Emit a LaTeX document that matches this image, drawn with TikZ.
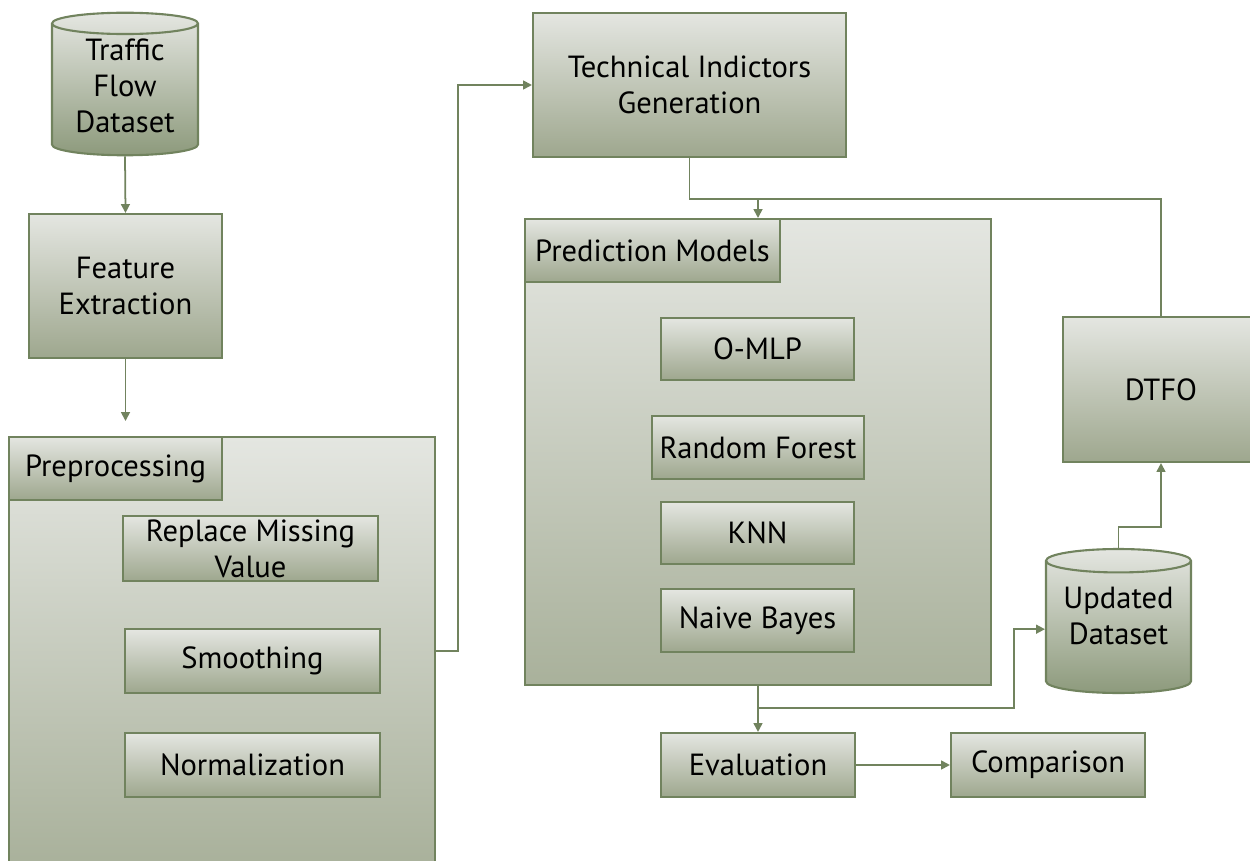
\documentclass[tikz,border=0pt]{standalone}
\usepackage{fontspec}
\setmainfont{PT Sans}
\usetikzlibrary{shapes.geometric,arrows.meta}
\definecolor{boxline}{RGB}{113,131,94}
\definecolor{boxtop}{RGB}{228,230,225}
\definecolor{boxbot}{RGB}{158,167,142}
\definecolor{wrapbot}{RGB}{169,177,155}
\definecolor{storebot}{RGB}{141,154,124}
\tikzstyle{block}=[draw=boxline, line width=1.2pt, top color=boxtop, bottom color=boxbot, align=center, inner sep=2pt, font=\fontsize{17.4}{20.5}\selectfont]
\tikzstyle{container}=[block, bottom color=wrapbot]
\tikzstyle{store}=[block, cylinder, shape border rotate=90, aspect=0.2, anchor=shape center, bottom color=storebot]
\tikzstyle{link}=[draw=boxline, line width=1pt]
\tikzstyle{flow}=[link, -{Triangle[length=5pt,width=5pt]}]

\begin{document}
\begin{tikzpicture}[x=0.02cm, y=-0.02cm]
\useasboundingbox (0,0) rectangle (1250,861);

\node[container, minimum width=8.52cm, minimum height=8.56cm] (prep) at (222,651) {};
\node[block, minimum width=4.26cm, minimum height=1.26cm] (preplab) at (115.5,468.5) {Preprocessing};
\node[container, minimum width=9.32cm, minimum height=9.32cm] (pred) at (758,452) {};
\node[block, minimum width=5.10cm, minimum height=1.26cm] (predlab) at (652.5,250.5) {Prediction Models};

\node[store, minimum width=2.92cm, minimum height=2.84cm, text depth=6.9pt] (data) at (125,84) {Traffic\\Flow\\Dataset};
\node[block, minimum width=3.86cm, minimum height=2.88cm] (feat) at (125.5,286) {Feature\\Extraction};
\node[block, minimum width=5.10cm, minimum height=1.26cm] (rmv) at (250.5,548.5) {Replace Missing\\Value};
\node[block, minimum width=5.10cm, minimum height=1.28cm] (smooth) at (252.5,661) {Smoothing};
\node[block, minimum width=5.10cm, minimum height=1.28cm] (norm) at (252.5,765) {Normalization};
\node[block, minimum width=6.26cm, minimum height=2.88cm] (tech) at (689.5,85) {Technical Indictors\\Generation};
\node[block, minimum width=3.86cm, minimum height=1.24cm] (omlp) at (757.5,349) {O-MLP};
\node[block, minimum width=4.24cm, minimum height=1.26cm] (rf) at (758,447.5) {Random Forest};
\node[block, minimum width=3.86cm, minimum height=1.24cm] (knn) at (757.5,533) {KNN};
\node[block, minimum width=3.86cm, minimum height=1.26cm] (nb) at (757.5,620.5) {Naive Bayes};
\node[block, minimum width=3.92cm, minimum height=2.90cm] (dtfo) at (1161,389.5) {DTFO};
\node[store, minimum width=2.90cm, minimum height=2.88cm, text depth=14.9pt] (upd) at (1118.5,621) {Updated\\Dataset};
\node[block, minimum width=3.88cm, minimum height=1.28cm] (eval) at (758,765) {Evaluation};
\node[block, minimum width=3.88cm, minimum height=1.28cm] (comp) at (1048,765) {Comparison};

\coordinate (prepin) at (125.5,421);
\coordinate (j1) at (758,199);
\coordinate (j2) at (758,708);

\draw[flow] (data.south) -- (feat.north);
\draw[flow] (feat.south) -- (prepin);
\draw[flow] (prep.east) -- ++(22,0) |- (tech.west);
\draw[link] (tech.south) |- (j1) -| (dtfo.north);
\draw[flow] (j1) -- (pred.north);
\draw[flow] (pred.south) -- (eval.north);
\draw[flow] (j2) -- ++(256,0) |- (upd.west);
\draw[flow] (eval) -- (comp);
\draw[flow] (upd.north) -- ++(0,-21) -| (dtfo.south);
\end{tikzpicture}
\end{document}
